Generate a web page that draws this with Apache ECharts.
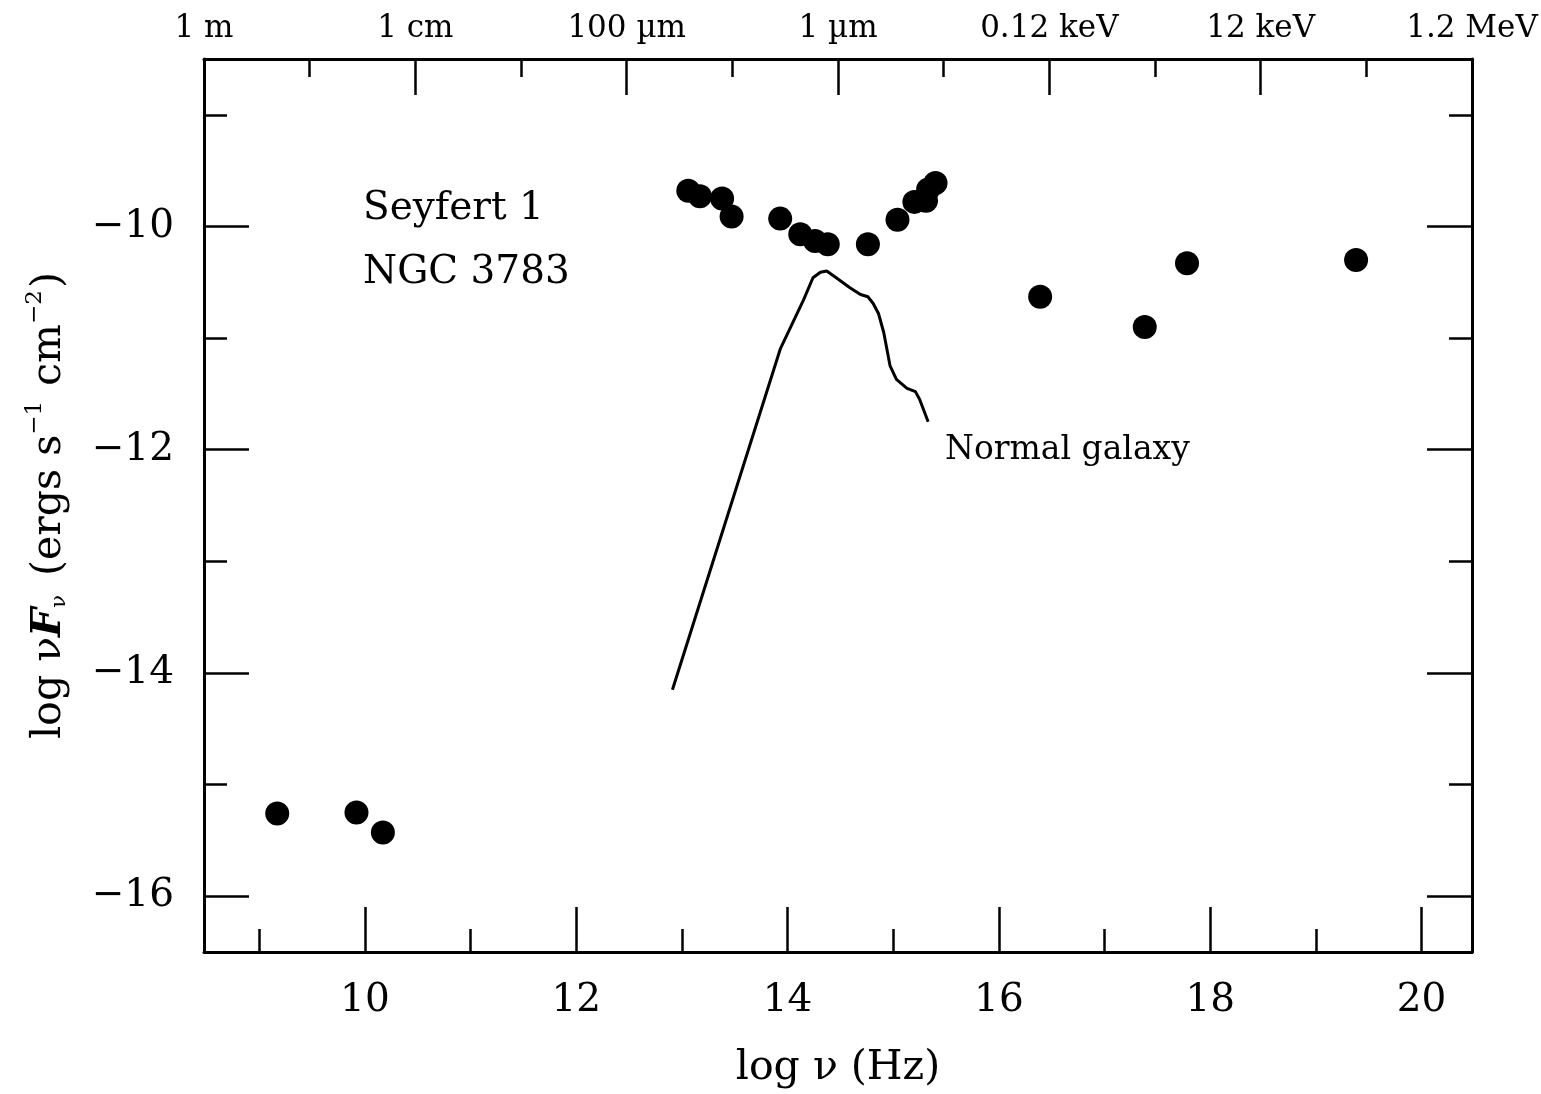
<!DOCTYPE html>
<html>
<head>
<meta charset="utf-8">
<script src="https://cdn.jsdelivr.net/npm/echarts@6/dist/echarts.min.js"></script>
<style>
  html, body { margin: 0; padding: 0; background: #fff; }
  #chart { width: 1541px; height: 1094px; }
</style>
</head>
<body>
<div id="chart"></div>
<script>
// ---- Data ----
// Seyfert 1 NGC 3783 observed points: log nu (Hz), log nuFnu
const seyfertLogNu = [9.17, 9.92, 10.17, 13.06, 13.17, 13.38, 13.47, 13.93, 14.12, 14.26, 14.38, 14.76, 15.04, 15.20, 15.31, 15.33, 15.40, 16.39, 17.38, 17.78, 19.38];
const seyfertLogNuFnu = [-15.26, -15.25, -15.43, -9.68, -9.73, -9.75, -9.91, -9.93, -10.07, -10.13, -10.16, -10.16, -9.94, -9.78, -9.77, -9.67, -9.61, -10.63, -10.90, -10.33, -10.30];

// Normal galaxy template curve
const galaxyLogNu = [12.91, 13.93, 14.05, 14.15, 14.24, 14.31, 14.37, 14.46, 14.59, 14.69, 14.76, 14.81, 14.86, 14.91, 14.97, 15.03, 15.13, 15.21, 15.25, 15.33];
const galaxyLogNuFnu = [-14.15, -11.10, -10.86, -10.66, -10.46, -10.41, -10.40, -10.46, -10.55, -10.61, -10.63, -10.69, -10.78, -10.95, -11.25, -11.37, -11.45, -11.48, -11.55, -11.75];

// Axis ticks and labels
const xMajorTicks = [10, 12, 14, 16, 18, 20];
const xMinorTicks = [9, 11, 13, 15, 17, 19];
const topMajorTicks = [8.477, 10.477, 12.477, 14.477, 16.477, 18.477, 20.477];
const topMinorTicks = [9.477, 11.477, 13.477, 15.477, 17.477, 19.477];
const topTickLabels = ['1 m', '1 cm', '100 µm', '1 µm', '0.12 keV', '12 keV', '1.2 MeV'];
const yMajorTicks = [-16, -14, -12, -10];
const yMinorTicks = [-15, -13, -11, -9];

const X_MIN = 8.477, X_MAX = 20.477, Y_MIN = -16.5, Y_MAX = -8.5;

const FONT = 'DejaVu Serif';
const INK = '#000';

function baseX(extra) {
  return Object.assign({
    type: 'value', min: X_MIN, max: X_MAX, gridIndex: 0,
    splitLine: { show: false },
    axisLine: { show: true, lineStyle: { color: INK, width: 3 } },
    axisLabel: { show: false },
    axisTick: { show: true, inside: true }
  }, extra);
}
function baseY(extra) {
  return Object.assign({
    type: 'value', min: Y_MIN, max: Y_MAX, gridIndex: 0,
    splitLine: { show: false },
    axisLine: { show: true, lineStyle: { color: INK, width: 3 } },
    axisLabel: { show: false },
    axisTick: { show: true, inside: true }
  }, extra);
}

const chart = echarts.init(document.getElementById('chart'), null, { renderer: 'canvas' });

const option = {
  backgroundColor: '#fff',
  animation: false,
  textStyle: { fontFamily: FONT, color: INK },
  grid: { left: 204, right: 69, top: 59, bottom: 141, containLabel: false },
  xAxis: [
    baseX({
      position: 'bottom',
      name: 'log ν (Hz)',
      nameLocation: 'middle',
      nameGap: 96,
      nameTextStyle: { fontFamily: FONT, fontSize: 41, color: INK },
      axisTick: { show: true, inside: true, length: 45, customValues: xMajorTicks, lineStyle: { color: INK, width: 2.5 } },
      axisLabel: { show: true, customValues: xMajorTicks, margin: 29, fontFamily: FONT, fontSize: 39, color: INK }
    }),
    baseX({
      position: 'bottom',
      axisLine: { show: false },
      axisTick: { show: true, inside: true, length: 23, customValues: xMinorTicks, lineStyle: { color: INK, width: 2.5 } }
    }),
    baseX({
      position: 'top',
      axisTick: { show: true, inside: true, length: 36, customValues: topMajorTicks, lineStyle: { color: INK, width: 2.5 } },
      axisLabel: {
        show: true, customValues: topMajorTicks, margin: 15, fontFamily: FONT, fontSize: 31, color: INK,
        formatter: function (v) {
          let best = 0;
          for (let i = 1; i < topMajorTicks.length; i++) {
            if (Math.abs(topMajorTicks[i] - v) < Math.abs(topMajorTicks[best] - v)) best = i;
          }
          return topTickLabels[best];
        }
      }
    }),
    baseX({
      position: 'top',
      axisLine: { show: false },
      axisTick: { show: true, inside: true, length: 18, customValues: topMinorTicks, lineStyle: { color: INK, width: 2.5 } }
    })
  ],
  yAxis: [
    baseY({
      position: 'left',
      name: '{a|log ν}{b|F}{s|ν}{a| (ergs s}{p|−1}{a| cm}{p|−2}{a|)}',
      nameLocation: 'middle',
      nameGap: 128,
      nameRotate: 90,
      nameTextStyle: {
        fontFamily: FONT, fontSize: 41, color: INK,
        rich: {
          a: { fontFamily: FONT, fontSize: 41, color: INK, lineHeight: 54, verticalAlign: 'middle' },
          b: { fontFamily: FONT, fontSize: 41, color: INK, fontStyle: 'italic', fontWeight: 'bold', lineHeight: 54, verticalAlign: 'middle' },
          s: { fontFamily: FONT, fontSize: 21, color: INK, lineHeight: 54, verticalAlign: 'bottom', padding: [0, 6, 6, 0] },
          p: { fontFamily: FONT, fontSize: 23, color: INK, lineHeight: 54, verticalAlign: 'top', padding: [2, 2, 0, 0] }
        }
      },
      axisTick: { show: true, inside: true, length: 45, customValues: yMajorTicks, lineStyle: { color: INK, width: 2.5 } },
      axisLabel: {
        show: true, customValues: yMajorTicks, margin: 30, fontFamily: FONT, fontSize: 39, color: INK,
        formatter: function (v) { return String(v).replace('-', '−'); }
      }
    }),
    baseY({
      position: 'left',
      axisLine: { show: false },
      axisTick: { show: true, inside: true, length: 23, customValues: yMinorTicks, lineStyle: { color: INK, width: 2.5 } }
    }),
    baseY({
      position: 'right',
      axisTick: { show: true, inside: true, length: 45, customValues: yMajorTicks, lineStyle: { color: INK, width: 2.5 } }
    }),
    baseY({
      position: 'right',
      axisLine: { show: false },
      axisTick: { show: true, inside: true, length: 23, customValues: yMinorTicks, lineStyle: { color: INK, width: 2.5 } }
    })
  ],
  series: [
    {
      name: 'Normal galaxy',
      type: 'line',
      xAxisIndex: 0, yAxisIndex: 0,
      data: galaxyLogNu.map((x, i) => [x, galaxyLogNuFnu[i]]),
      showSymbol: false,
      smooth: false,
      lineStyle: { color: INK, width: 3 },
      z: 2
    },
    {
      name: 'Seyfert 1 NGC 3783',
      type: 'scatter',
      xAxisIndex: 0, yAxisIndex: 0,
      data: seyfertLogNu.map((x, i) => [x, seyfertLogNuFnu[i]]),
      symbol: 'circle',
      symbolSize: 24,
      itemStyle: { color: INK, opacity: 1 },
      z: 3
    }
  ],
  graphic: [
    { type: 'text', left: 363, top: 189, style: { text: 'Seyfert 1', font: '39px "DejaVu Serif"', fill: INK } },
    { type: 'text', left: 363, top: 253, style: { text: 'NGC 3783', font: '39px "DejaVu Serif"', fill: INK } },
    { type: 'text', left: 945, top: 434, style: { text: 'Normal galaxy', font: '33px "DejaVu Serif"', fill: INK } }
  ]
};

chart.setOption(option);
</script>
</body>
</html>
